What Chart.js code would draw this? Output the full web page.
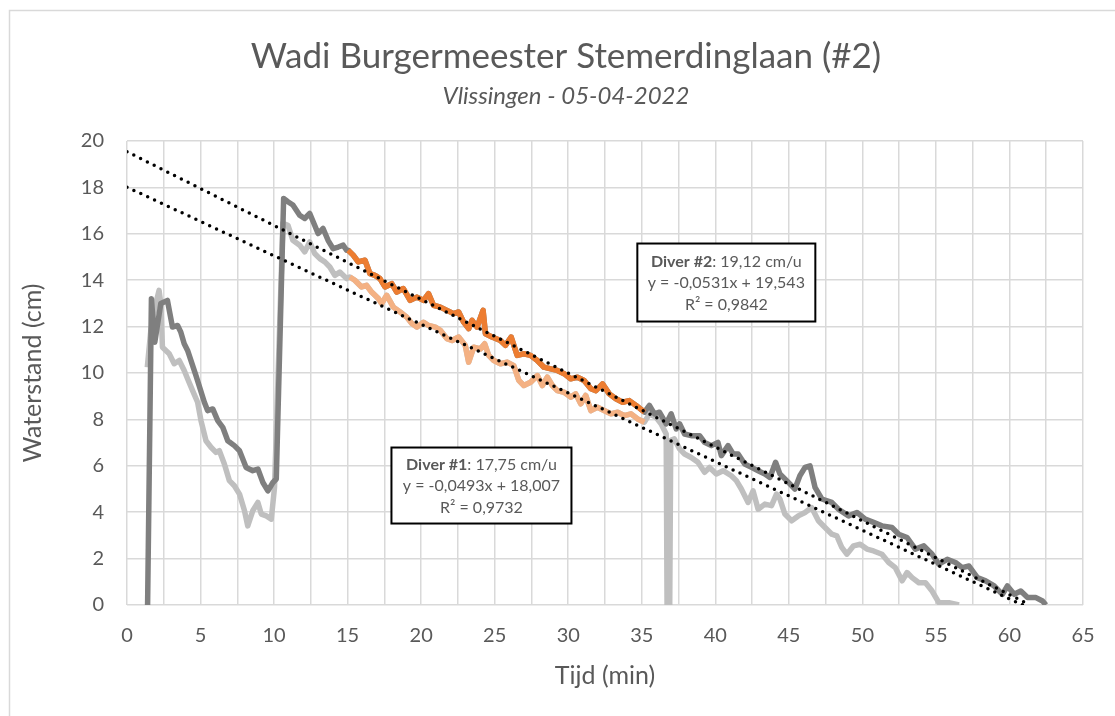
<!DOCTYPE html>
<html>
<head>
<meta charset="utf-8">
<script src="https://cdn.jsdelivr.net/npm/chart.js@4/dist/chart.umd.min.js"></script>
<style>
html, body { margin: 0; padding: 0; background: #fff; }
#wrap { position: absolute; left: 0; top: 0; width: 1115px; height: 716px; }
</style>
</head>
<body>
<div id="wrap"><canvas id="chart"></canvas></div>
<script>
// tijd (min), waterstand (cm) - Diver #2
var diver2Start = [[1.40,0],[1.66,13.2],[1.89,11.33],[2.30,13.0],[2.75,13.13],[3.09,11.98],[3.44,12.05],[3.66,11.76],[3.89,11.26],[4.12,10.97],[4.69,9.89],[5.26,8.74],[5.48,8.38],[5.83,8.45],[6.17,7.95],[6.51,7.66],[6.85,7.08],[7.30,6.87],[7.65,6.65],[8.10,5.93],[8.55,5.79],[8.90,5.86],[9.24,5.28],[9.58,4.92],[9.92,5.28],[10.15,5.43],[10.65,17.52],[10.94,17.38],[11.28,17.24],[11.74,16.80],[12.08,16.66],[12.42,16.88],[12.76,16.37],[12.99,16.01],[13.33,16.23],[13.67,15.72],[14.01,15.36],[14.36,15.43],[14.70,15.51],[14.93,15.29]];
var diver2Fit = [[15.04,15.29],[15.38,15.08],[15.72,14.79],[16.18,14.86],[16.52,14.28],[16.86,14.21],[17.20,14.07],[17.54,13.71],[18.00,13.85],[18.34,13.49],[18.79,13.64],[19.25,13.13],[19.71,13.27],[20.16,13.13],[20.50,13.42],[20.84,12.92],[21.30,12.84],[21.75,12.70],[22.21,12.56],[22.55,12.63],[22.89,12.19],[23.23,11.91],[23.46,12.27],[23.80,11.98],[24.21,12.70],[24.37,11.69],[24.82,11.55],[25.39,11.40],[25.73,11.19],[26.12,11.55],[26.53,10.76],[26.98,10.83],[27.44,10.76],[27.90,10.54],[28.35,10.25],[28.81,10.18],[29.26,10.11],[29.72,9.97],[30.17,9.75],[30.63,9.82],[31.08,9.68],[31.54,9.32],[31.88,9.24],[32.33,9.53],[32.79,9.10],[33.24,8.89],[33.70,8.74],[34.15,8.81],[34.61,8.60],[35.18,8.31]];
var diver2End = [[35.52,8.60],[35.86,8.24],[36.20,8.31],[36.66,7.81],[37.00,8.24],[37.34,7.59],[37.57,7.81],[37.91,7.37],[38.36,7.30],[38.93,7.30],[39.27,7.01],[39.73,6.87],[40.18,7.01],[40.41,6.44],[40.87,6.87],[41.21,6.51],[41.55,6.51],[42.00,6.08],[42.46,5.93],[42.91,5.79],[43.37,5.65],[43.71,5.50],[44.10,6.15],[44.39,5.65],[44.85,5.36],[45.41,5.00],[45.75,5.57],[46.10,5.93],[46.44,6.00],[46.78,5.07],[47.24,4.57],[47.92,4.42],[48.37,4.13],[49.06,3.84],[49.63,3.99],[50.19,3.70],[50.76,3.56],[51.33,3.41],[52.01,3.34],[52.47,3.05],[53.04,2.91],[53.60,2.41],[54.18,2.55],[54.74,2.19],[55.20,1.76],[55.77,1.97],[56.33,1.83],[56.79,1.61],[57.25,1.68],[57.82,1.18],[58.38,1.04],[58.96,0.82],[59.52,0.46],[59.86,0.82],[60.32,0.46],[60.77,0.60],[61.23,0.32],[61.80,0.32],[62.25,0.17],[62.48,0]];

// Diver #1
var diver1Start = [[1.38,10.25],[1.62,11.84],[1.96,12.99],[2.18,13.56],[2.30,12.99],[2.41,11.11],[2.87,10.83],[3.21,10.40],[3.55,10.54],[3.89,10.11],[4.12,9.75],[4.46,9.24],[4.80,8.74],[5.03,7.95],[5.37,7.08],[5.71,6.80],[6.05,6.58],[6.28,6.65],[6.62,6.08],[6.96,5.36],[7.30,5.14],[7.65,4.78],[7.99,4.06],[8.21,3.41],[8.55,4.06],[8.90,4.42],[9.13,3.92],[9.47,3.84],[9.81,3.70],[10.03,5.07],[10.60,16.45],[10.94,16.37],[11.28,15.72],[11.74,15.51],[12.08,15.22],[12.42,15.65],[12.76,15.15],[13.11,14.93],[13.45,14.79],[13.79,14.57],[14.13,14.21],[14.47,14.35],[14.93,14.07]];
var diver1Fit = [[15.15,14.14],[15.49,14.00],[15.95,13.71],[16.29,13.78],[16.63,13.49],[17.09,13.21],[17.31,12.99],[17.66,13.35],[18.11,12.84],[18.57,12.63],[19.02,12.41],[19.37,12.13],[19.71,11.98],[20.16,12.19],[20.50,12.05],[20.96,11.98],[21.30,11.84],[21.75,11.48],[22.10,11.40],[22.55,11.55],[23.00,11.19],[23.23,10.47],[23.57,11.11],[24.03,11.04],[24.32,11.26],[24.59,10.76],[24.94,10.54],[25.39,10.40],[25.85,10.47],[26.30,10.32],[26.64,9.68],[26.98,9.46],[27.44,9.60],[27.90,9.89],[28.24,9.46],[28.58,9.82],[28.92,9.46],[29.26,9.24],[29.72,9.17],[30.17,8.96],[30.51,9.10],[30.85,8.67],[31.19,9.03],[31.54,8.38],[31.99,8.52],[32.44,8.38],[32.90,8.24],[33.36,8.31],[33.81,8.16],[34.27,8.24],[34.72,8.02],[35.18,7.88]];
var diver1End = [[35.52,8.24],[35.97,8.09],[36.31,7.81],[36.66,7.37],[36.72,0],[36.90,0],[36.97,7.10],[37.22,7.16],[37.57,6.73],[37.91,6.51],[38.36,6.36],[38.82,6.15],[39.27,5.72],[39.61,5.93],[40.07,5.65],[40.53,5.79],[41.09,5.57],[41.43,5.36],[41.77,5.00],[42.23,4.42],[42.57,4.92],[42.91,4.13],[43.37,4.35],[43.82,4.28],[44.16,4.78],[44.39,4.57],[44.73,3.92],[45.19,3.63],[45.64,3.84],[46.10,3.99],[46.55,4.20],[47.01,3.63],[47.46,3.34],[47.92,3.05],[48.26,2.98],[48.60,2.48],[48.94,2.19],[49.40,2.55],[49.85,2.62],[50.31,2.41],[50.76,2.33],[51.33,2.19],[51.79,1.83],[52.24,1.61],[52.70,1.04],[53.04,1.40],[53.38,1.18],[53.84,0.96],[54.29,0.96],[54.74,0.60],[55.20,0.10],[55.88,0.10],[56.57,0]];

// trendlijnen (begin- en eindpunt)
var trend2 = [[0,19.54],[61.4,0]];
var trend1 = [[0,18.01],[60.9,0]];

var chartTitle = 'Wadi Burgermeester Stemerdinglaan (#2)';
var chartSubtitle = 'Vlissingen - 05-04-2022';
var labelDiver2 = ['Diver #2', ': 19,12 cm/u', 'y = -0,0531x + 19,543', 'R\u00b2 = 0,9842'];
var labelDiver1 = ['Diver #1', ': 17,75 cm/u', 'y = -0,0493x + 18,007', 'R\u00b2 = 0,9732'];

var FONT = 'Lato';
var TEXT = '#595959';

function pts(arr) {
	return arr.map(function(p) { return {x: p[0], y: p[1]}; });
}

function lineSet(label, data, color, width) {
	return {
		label: label,
		data: pts(data),
		borderColor: color,
		borderWidth: width,
		pointRadius: 0,
		tension: 0,
		borderJoinStyle: 'round',
		fill: false
	};
}

function trendSet(label, data) {
	var ds = lineSet(label, data, '#000000', 3.5);
	ds.borderDash = [0, 7.6];
	ds.borderCapStyle = 'round';
	return ds;
}

// witte achtergrond, kader en titels
var frame = {
	id: 'frame',
	beforeDraw: function(chart) {
		var ctx = chart.ctx;
		ctx.save();
		ctx.fillStyle = '#ffffff';
		ctx.fillRect(0, 0, chart.width, chart.height);
		ctx.strokeStyle = '#d9d9d9';
		ctx.lineWidth = 1.5;
		ctx.strokeRect(9.5, 10.5, chart.width + 20, chart.height + 20);
		ctx.fillStyle = TEXT;
		ctx.textAlign = 'center';
		ctx.textBaseline = 'middle';
		ctx.font = '35px ' + FONT;
		ctx.fillText(chartTitle, 566, 57);
		ctx.font = 'italic 24px ' + FONT;
		ctx.fillText(chartSubtitle, 566, 96);
		ctx.restore();
	}
};

var boxes = {
	id: 'boxes',
	afterDatasetsDraw: function(chart, args, opts) {
		var ctx = chart.ctx;
		var xs = chart.scales.x, ys = chart.scales.y;
		opts.items.forEach(function(item) {
			var cx = xs.getPixelForValue(item.at[0]);
			var cy = ys.getPixelForValue(item.at[1]);
			var w = item.w, h = item.h;
			ctx.save();
			ctx.fillStyle = '#ffffff';
			ctx.fillRect(cx - w / 2, cy - h / 2, w, h);
			ctx.strokeStyle = '#000000';
			ctx.lineWidth = 2;
			ctx.strokeRect(cx - w / 2, cy - h / 2, w, h);
			ctx.fillStyle = TEXT;
			ctx.textBaseline = 'middle';
			var t = item.text;
			var bold = 'bold 16px ' + FONT, normal = '16px ' + FONT;
			ctx.font = bold;
			var w1 = ctx.measureText(t[0]).width;
			ctx.font = normal;
			var w2 = ctx.measureText(t[1]).width;
			var x0 = cx - (w1 + w2) / 2;
			ctx.textAlign = 'left';
			ctx.font = bold;
			ctx.fillText(t[0], x0, cy - 21);
			ctx.font = normal;
			ctx.fillText(t[1], x0 + w1, cy - 21);
			ctx.textAlign = 'center';
			ctx.fillText(t[2], cx, cy + 0.5);
			ctx.fillText(t[3], cx, cy + 22);
			ctx.restore();
		});
	}
};

var ctx = document.getElementById('chart').getContext('2d');
var chart = new Chart(ctx, {
	type: 'line',
	data: {
		datasets: [
			trendSet('Trend Diver #2', trend2),
			trendSet('Trend Diver #1', trend1),
			lineSet('Diver #2 (fit)', diver2Fit, '#ed7d31', 5.5),
			lineSet('Diver #1 (fit)', diver1Fit, '#f4b183', 5.5),
			lineSet('Diver #2', diver2Start.concat(diver2Fit, diver2End), '#7f7f7f', 5.5),
			lineSet('Diver #1', diver1Start.concat(diver1Fit, diver1End), '#bfbfbf', 5.5)
		]
	},
	options: {
		responsive: true,
		maintainAspectRatio: false,
		animation: false,
		events: [],
		layout: { padding: { left: 0, right: 32, top: 141, bottom: 0 } },
		plugins: {
			legend: { display: false },
			tooltip: { enabled: false },
			title: { display: false },
			boxes: {
				items: [
					{ at: [40.75, 13.9], w: 178, h: 78, text: labelDiver2 },
					{ at: [24.1, 5.15], w: 180, h: 76, text: labelDiver1 }
				]
			}
		},
		scales: {
			x: {
				type: 'linear',
				min: 0,
				max: 65,
				afterFit: function(s) { s.height = 111; },
				ticks: {
					stepSize: 2.5,
					autoSkip: false,
					maxRotation: 0,
					padding: 19,
					color: TEXT,
					font: { family: FONT, size: 20 },
					callback: function(v) { return v % 5 === 0 ? String(v) : ''; }
				},
				grid: { color: '#d9d9d9', lineWidth: 1.5, drawTicks: false },
				border: { display: false },
				title: {
					display: true,
					text: 'Tijd (min)',
					color: TEXT,
					font: { family: FONT, size: 25 },
					padding: { top: 0, bottom: 25 }
				}
			},
			y: {
				min: 0,
				max: 20,
				afterFit: function(s) { s.width = 127; },
				ticks: {
					stepSize: 1,
					padding: 23,
					color: TEXT,
					font: { family: FONT, size: 20 },
					callback: function(v) { return v % 2 === 0 ? String(v) : ''; }
				},
				grid: {
					color: function(c) { return c.tick && c.tick.value % 2 ? '#f2f2f2' : '#d9d9d9'; },
					lineWidth: 1.5,
					drawTicks: false
				},
				border: { display: false },
				title: {
					display: true,
					text: 'Waterstand (cm)',
					color: TEXT,
					font: { family: FONT, size: 25 },
					padding: { top: 18, bottom: 0 }
				}
			}
		}
	},
	plugins: [frame, boxes]
});
</script>
</body>
</html>
